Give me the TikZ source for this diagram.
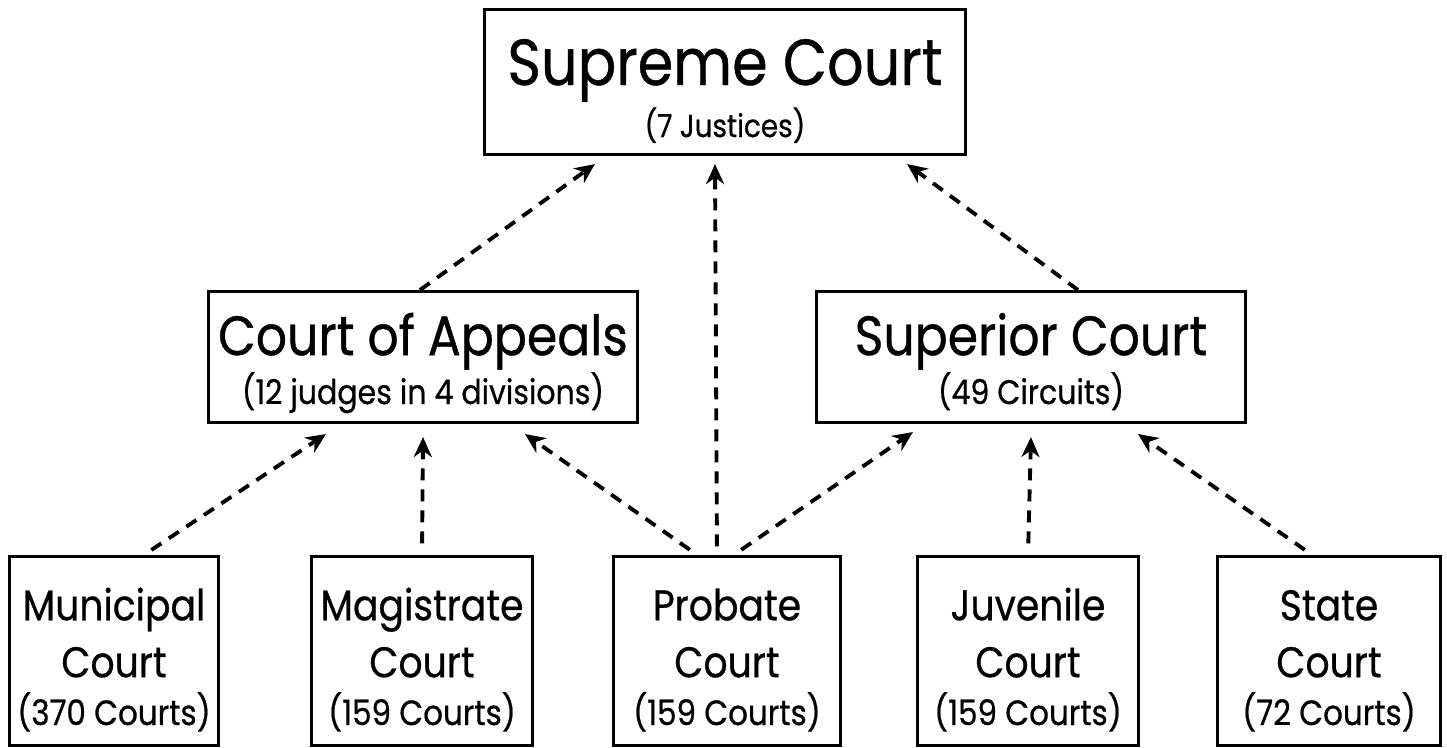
\documentclass[tikz,border=0pt]{standalone}
\usepackage{fontspec}
\setmainfont{Poppins}[FakeStretch=0.88, FakeBold=0.6]
\usepackage{tikz}
\usetikzlibrary{arrows.meta}

\newcommand{\bigtitle}{\fontsize{18.5}{12}\selectfont}
\newcommand{\midtitle}{\fontsize{15.8}{12}\selectfont}
\newcommand{\lowtitle}{\fontsize{12.2}{12}\selectfont}
\newcommand{\smallnote}{\fontsize{9}{12}\selectfont}
\newcommand{\midnote}{\fontsize{9.7}{12}\selectfont}
\newcommand{\lownote}{\fontsize{10}{12}\selectfont}
% one line of a box, with no height or depth of its own
\newcommand{\flatline}[1]{\raisebox{0pt}[0pt][0pt]{#1}}

\begin{document}
\begin{tikzpicture}[
		x=0.01cm, y=-0.01cm,
		court/.style={rectangle, draw, line width=0.85pt, align=center, inner sep=0pt, text depth=0cm},
		topcourt/.style={court, minimum width=4.8cm, minimum height=1.45cm, text height=1.1cm},
		midcourt/.style={court, minimum width=4.29cm, minimum height=1.31cm, text height=0.94cm},
		lowcourt/.style={court, minimum width=2.2cm, minimum height=1.88cm, text height=1.48cm},
		link/.style={-{Stealth[length=0.2cm, width=0.18cm]}, line width=1.1pt, dash pattern=on 0.12cm off 0.09cm}
	]
		\useasboundingbox (0,0) rectangle (1447,747);

		% Top level
		\node[topcourt] (supreme) at (725,82) {\flatline{\bigtitle Supreme Court}\\[2.8pt]\flatline{\smallnote (7 Justices)}};

		% Intermediate courts
		\node[midcourt] (appeals) at (423,357) {\flatline{\midtitle Court of Appeals}\\[1.9pt]\flatline{\midnote (12 judges in 4 divisions)}};
		\node[midcourt] (superior) at (1031,357) {\flatline{\midtitle Superior Court}\\[1.9pt]\flatline{\midnote (49 Circuits)}};

		% Trial courts
		\node[lowcourt, minimum width=2.08cm] (municipal) at (114,651) {\flatline{\lowtitle Municipal}\\[4.2pt]\flatline{\lowtitle Court}\\[1.6pt]\flatline{\lownote (370 Courts)}};
		\node[lowcourt] (magistrate) at (422,651) {\flatline{\lowtitle Magistrate}\\[4.2pt]\flatline{\lowtitle Court}\\[1.6pt]\flatline{\lownote (159 Courts)}};
		\node[lowcourt, minimum width=2.26cm] (probate) at (727,651) {\flatline{\lowtitle Probate}\\[4.2pt]\flatline{\lowtitle Court}\\[1.6pt]\flatline{\lownote (159 Courts)}};
		\node[lowcourt] (juvenile) at (1028,651) {\flatline{\lowtitle Juvenile}\\[4.2pt]\flatline{\lowtitle Court}\\[1.6pt]\flatline{\lownote (159 Courts)}};
		\node[lowcourt, minimum width=2.22cm] (state) at (1329,651) {\flatline{\lowtitle State}\\[4.2pt]\flatline{\lowtitle Court}\\[1.6pt]\flatline{\lownote (72 Courts)}};

		% Appeals to the Supreme Court
		\draw[link] ([xshift=-0.03cm]appeals.north) -- ([xshift=-1.3cm, yshift=-0.08cm]supreme.south);
		\draw[link, shorten <=0.09cm] ([xshift=-0.1cm]probate.north) -- ([xshift=-0.1cm, yshift=-0.08cm]supreme.south);
		\draw[link] ([xshift=0.47cm]superior.north) -- ([xshift=1.82cm, yshift=-0.08cm]supreme.south);

		% Trial courts to the Court of Appeals
		\draw[link, shorten <=0.1cm] ([xshift=0.29cm]municipal.north) -- ([xshift=-0.97cm, yshift=-0.1cm]appeals.south);
		\draw[link, shorten <=0.12cm] (magistrate.north) -- ([yshift=-0.13cm]appeals.south);
		\draw[link, shorten <=0.1cm] ([xshift=-0.29cm]probate.north) -- ([xshift=1.02cm, yshift=-0.1cm]appeals.south);

		% Trial courts to the Superior Court
		\draw[link, shorten <=0.1cm] ([xshift=0.06cm]probate.north) -- ([xshift=-1.18cm, yshift=-0.08cm]superior.south);
		\draw[link, shorten <=0.12cm] (juvenile.north) -- ([yshift=-0.13cm]superior.south);
		\draw[link, shorten <=0.1cm] ([xshift=-0.16cm]state.north) -- ([xshift=1.07cm, yshift=-0.1cm]superior.south);
	\end{tikzpicture}
\end{document}
